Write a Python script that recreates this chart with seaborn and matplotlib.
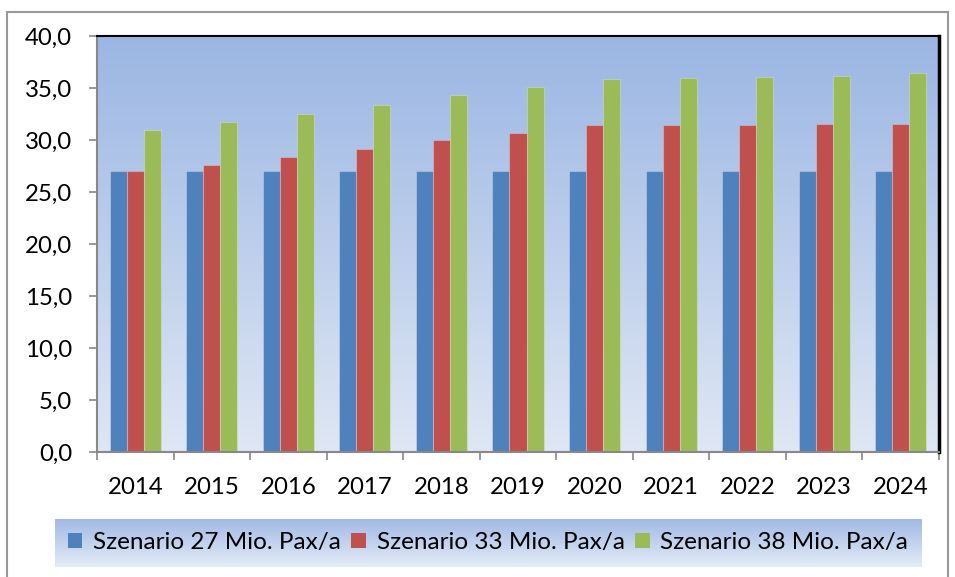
"""Passagierszenarien 2014-2024 als gruppiertes Balkendiagramm"""
import numpy as np
import pandas as pd
import matplotlib
matplotlib.use("Agg")
import matplotlib.pyplot as plt
from matplotlib.patches import Patch, Rectangle
from matplotlib.colors import LinearSegmentedColormap
from matplotlib.ticker import FuncFormatter, FixedLocator
import seaborn as sns

years = [str(y) for y in range(2014, 2025)]
szenario_27 = [27.0, 27.0, 27.0, 27.0, 27.0, 27.0, 27.0, 27.0, 27.0, 27.0, 27.0]
szenario_33 = [27.0, 27.6, 28.4, 29.1, 30.0, 30.7, 31.4, 31.4, 31.4, 31.5, 31.5]
szenario_38 = [31.0, 31.7, 32.5, 33.4, 34.3, 35.1, 35.9, 36.0, 36.1, 36.2, 36.4]
series_names = ["Szenario 27 Mio. Pax/a", "Szenario 33 Mio. Pax/a", "Szenario 38 Mio. Pax/a"]
colors = ["#4F81BD", "#C0504D", "#9BBB59"]

df = pd.DataFrame({
    "Jahr": years * 3,
    "Wert": szenario_27 + szenario_33 + szenario_38,
    "Szenario": [series_names[0]] * 11 + [series_names[1]] * 11 + [series_names[2]] * 11,
})

sns.set_theme(style="white")
plt.rcParams["font.family"] = ["Lato", "DejaVu Sans"]
plt.rcParams["text.color"] = "black"

fig = plt.figure(figsize=(9.55, 5.77), dpi=100)
ax = fig.add_axes([97 / 955, 125 / 577, 842 / 955, 416 / 577])

# Hintergrundverlauf im Plotbereich
bg = LinearSegmentedColormap.from_list("bg", ["#DFE7F4", "#9BB6E3"])
grad = np.linspace(0, 1, 256).reshape(-1, 1)
ax.imshow(grad, cmap=bg, aspect="auto", origin="lower",
          extent=[-0.5, 10.5, 0, 40], zorder=0)

sns.barplot(data=df, x="Jahr", y="Wert", hue="Szenario", palette=colors,
            width=0.667, gap=0, saturation=1, ax=ax, legend=False, zorder=2,
            edgecolor=(1, 1, 1, 0.25), linewidth=0.8)

ax.set_xlim(-0.5, 10.5)
ax.set_ylim(0, 40)
ax.set_yticks(np.arange(0, 41, 5))
ax.yaxis.set_major_formatter(FuncFormatter(lambda v, _: f"{v:.1f}".replace(".", ",")))
ax.set_xlabel("")
ax.set_ylabel("")

ax.tick_params(axis="y", which="major", direction="out", length=6, width=1.2,
               color="#888888", pad=12, labelsize=17.3, labelcolor="black", left=True)
ax.tick_params(axis="x", which="major", length=0, pad=18, labelsize=17.3,
               labelcolor="black")
ax.xaxis.set_minor_locator(FixedLocator(np.arange(-0.5, 11, 1)))
ax.tick_params(axis="x", which="minor", direction="out", length=6, width=1.2,
               color="#888888", bottom=True)

for side in ["left", "bottom"]:
    ax.spines[side].set_color("#888888")
    ax.spines[side].set_linewidth(1.5)
ax.spines["top"].set_color("black")
ax.spines["top"].set_linewidth(1.5)
ax.spines["right"].set_color("black")
ax.spines["right"].set_linewidth(2.5)

# Legende mit Verlaufsbox
lax = fig.add_axes([55 / 955, 10 / 577, 866 / 955, 48 / 577])
lg = LinearSegmentedColormap.from_list("lg", ["#E4ECF7", "#A0B8E4"])
lax.imshow(grad, cmap=lg, aspect="auto", origin="lower", extent=[0, 1, 0, 1])
lax.set_xlim(0, 1)
lax.set_ylim(0, 1)
lax.axis("off")
handles = [Patch(facecolor=c, edgecolor="none") for c in colors]
lax.legend(handles, series_names, loc="center", ncol=3, frameon=False,
           fontsize=17.5, handlelength=0.58, handleheight=0.58,
           handletextpad=0.45, columnspacing=0.45)

# Rahmen um die gesamte Grafik
fig.patches.append(Rectangle((7 / 955, -0.02), 941 / 955, 1.0, transform=fig.transFigure,
                             fill=False, edgecolor="#999999", linewidth=1.5))

plt.savefig("out.png", dpi=100)
plt.close()
